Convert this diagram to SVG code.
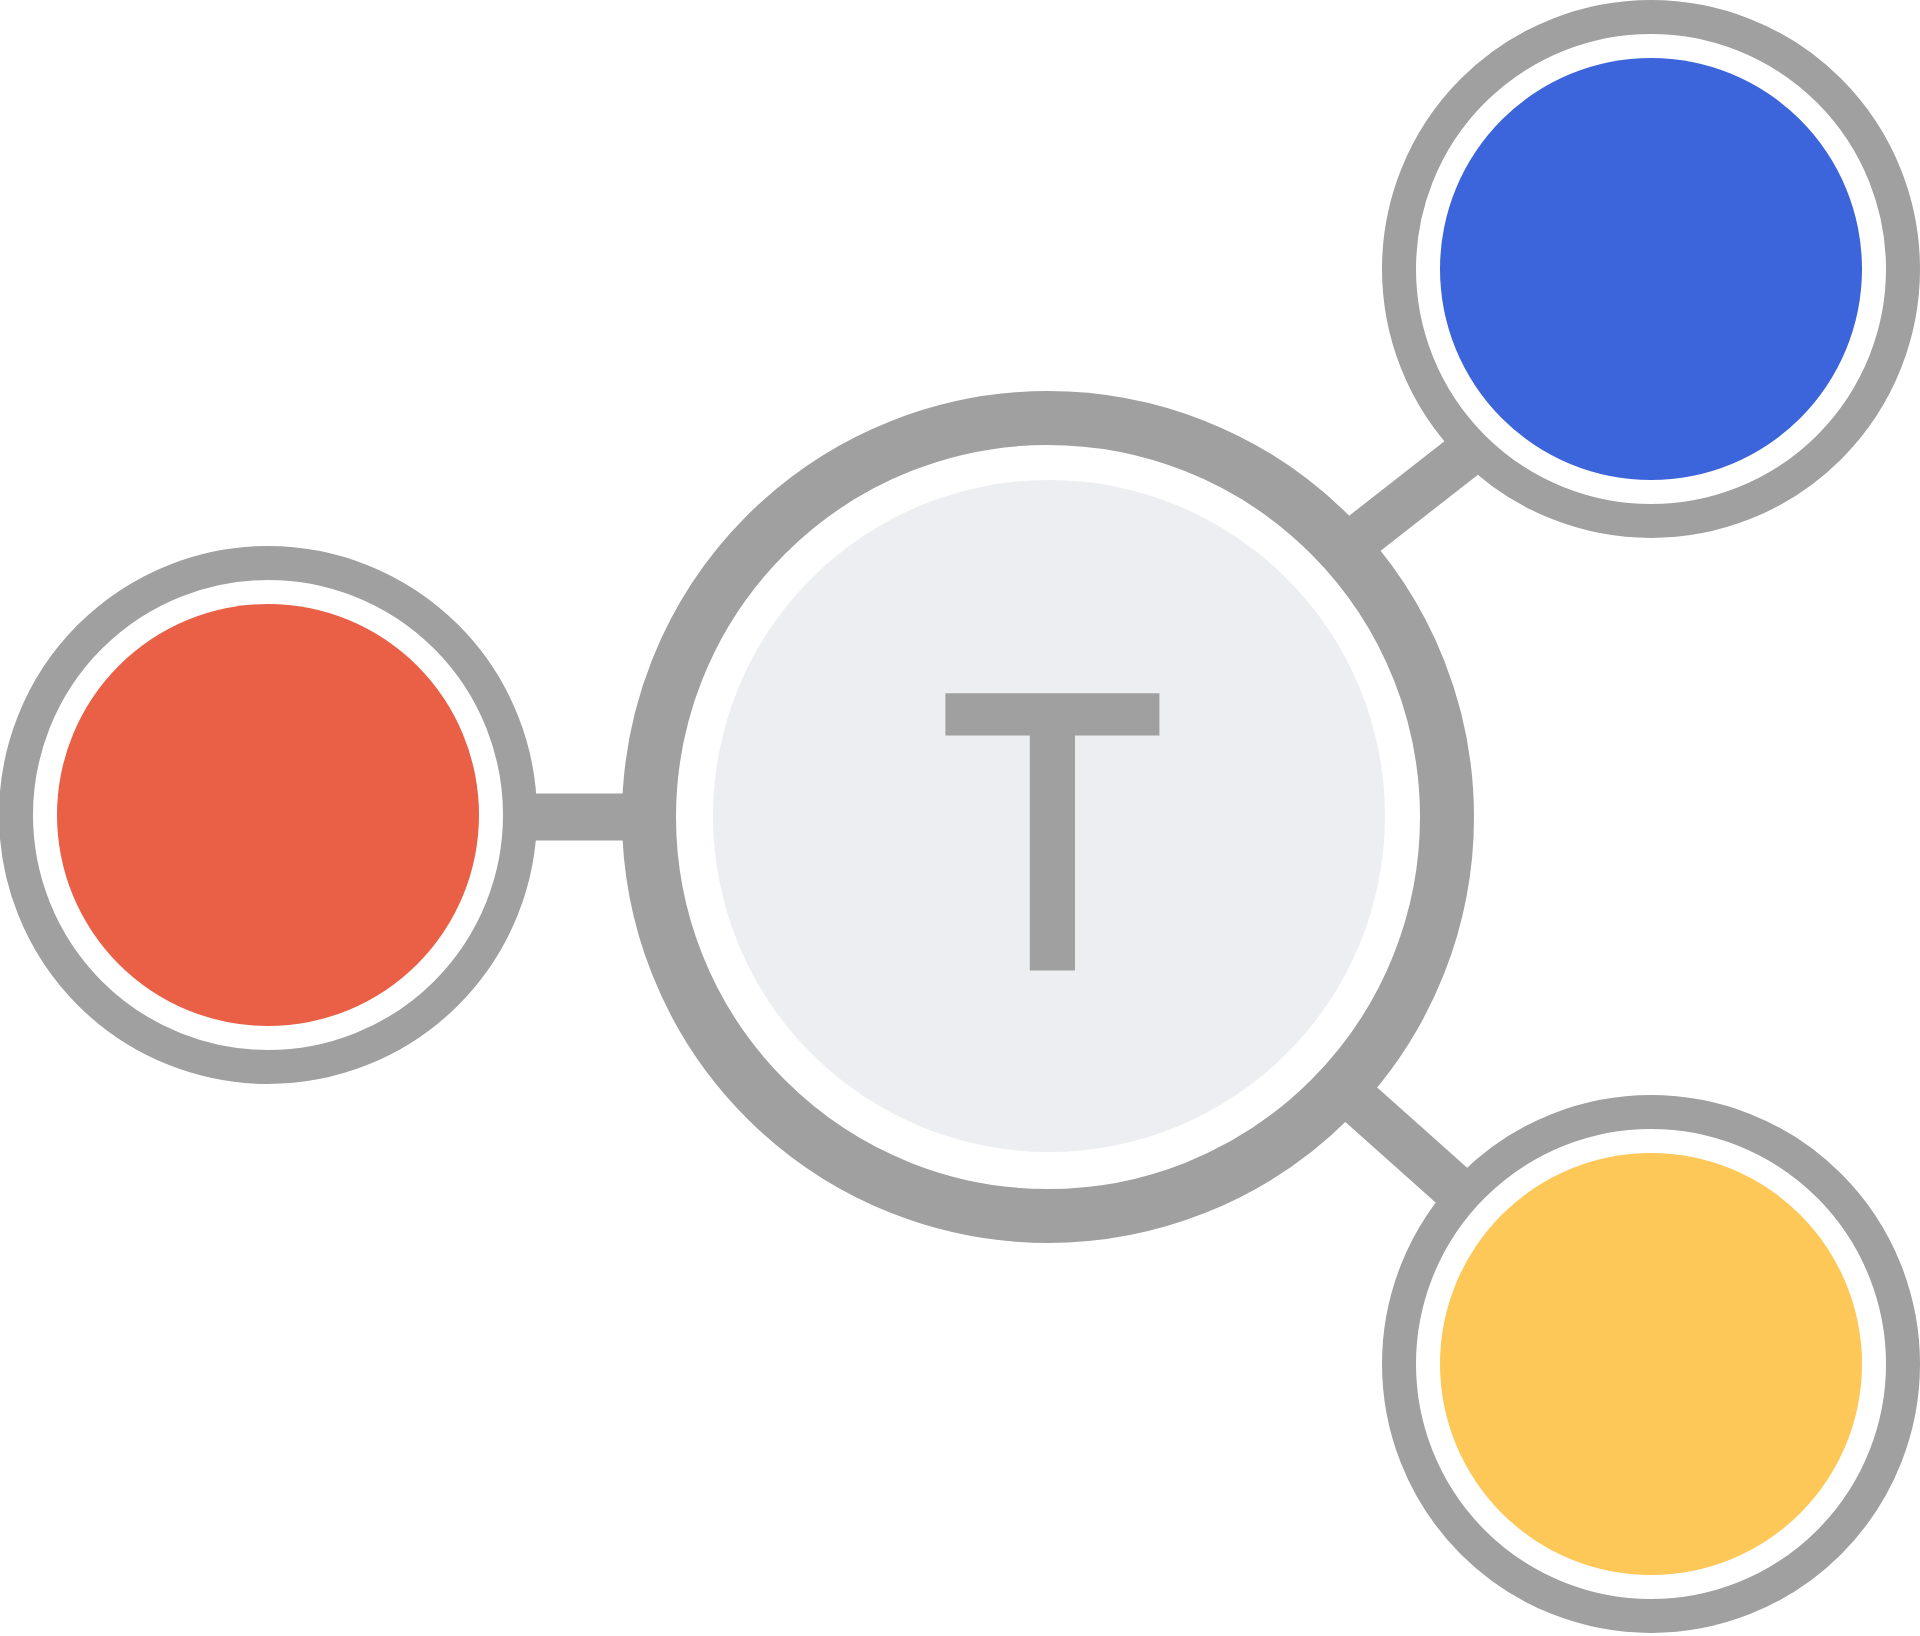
<svg xmlns="http://www.w3.org/2000/svg" width="1920" height="1636" viewBox="0 0 1920 1636">
<style>
.conn{stroke:#A0A0A0;stroke-width:47;fill:none}
.ring{fill:#FFFFFF;stroke:#A0A0A0;stroke-width:34}
.label{font-family:"Liberation Sans",Arial,sans-serif;font-size:384px;fill:#A0A0A0;stroke:#A0A0A0;stroke-width:13;text-anchor:middle}
</style>
<rect width="1920" height="1636" fill="#FFFFFF"/>
<g id="connectors">
<line class="conn" x1="268" y1="817" x2="1048" y2="817"/>
<line class="conn" x1="1300" y1="584" x2="1520" y2="412"/>
<line class="conn" x1="1250" y1="1005.5" x2="1560" y2="1282"/>
</g>
<g id="node-center">
<circle cx="1048" cy="817" r="399" fill="#FFFFFF" stroke="#A0A0A0" stroke-width="54"/>
<circle cx="1049" cy="816" r="336" fill="#EDEEF2"/>
<text class="label" transform="translate(1052.5 964) scale(0.93 1)">T</text>
</g>
<g id="node-red">
<circle class="ring" cx="268" cy="815" r="252"/>
<circle cx="268" cy="815" r="211" fill="#E96046"/>
</g>
<g id="node-blue">
<circle class="ring" cx="1651" cy="269" r="252"/>
<circle cx="1651" cy="269" r="211" fill="#3D65DB"/>
</g>
<g id="node-yellow">
<circle class="ring" cx="1651" cy="1364" r="252"/>
<circle cx="1651" cy="1364" r="211" fill="#FDC857"/>
</g>
</svg>
